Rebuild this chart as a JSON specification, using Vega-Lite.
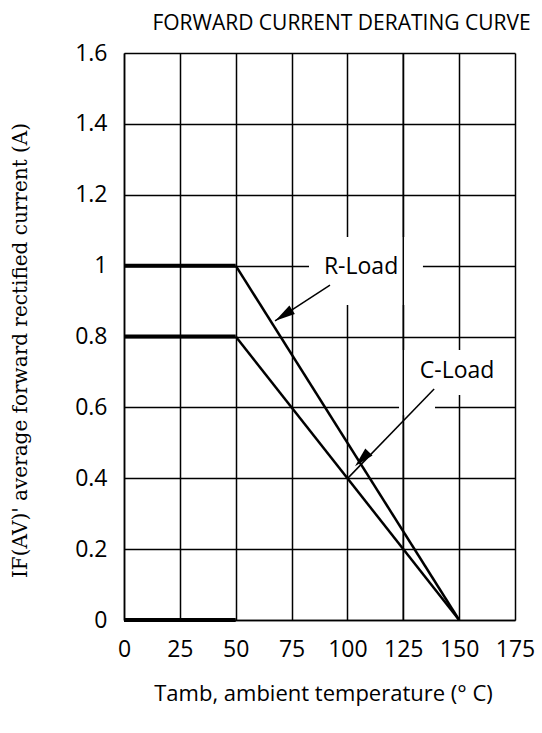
{
  "$schema": "https://vega.github.io/schema/vega-lite/v6.json",
  "width": 391,
  "height": 567,
  "autosize": {"type": "none"},
  "padding": {"left": 124, "top": 53, "right": 27, "bottom": 113},
  "background": "white",
  "title": {
    "text": "FORWARD CURRENT DERATING CURVE",
    "font": "Open Sans",
    "fontSize": 21,
    "fontWeight": "normal",
    "color": "black",
    "anchor": "middle",
    "dx": 22,
    "dy": 23,
    "baseline": "alphabetic",
    "offset": 14
  },
  "config": {
    "view": {"stroke": null},
    "axis": {
      "domainColor": "black",
      "domainWidth": 1.5,
      "gridColor": "black",
      "gridWidth": 1.5,
      "gridOpacity": 1,
      "ticks": false,
      "labelColor": "black",
      "labelFont": "Open Sans",
      "labelFontSize": 23,
      "labelOverlap": false,
      "labelFlush": false,
      "titleColor": "black",
      "titleFontWeight": "normal"
    }
  },
  "datasets": {
    "lines": [
      {"x": 0, "y": 1, "s": "R-flat"}, {"x": 50, "y": 1, "s": "R-flat"},
      {"x": 0, "y": 0.8, "s": "C-flat"}, {"x": 50, "y": 0.8, "s": "C-flat"},
      {"x": 0, "y": 0, "s": "zero"}, {"x": 50, "y": 0, "s": "zero"}
    ],
    "diag": [
      {"x": 50, "y": 1, "s": "R-Load"}, {"x": 150, "y": 0, "s": "R-Load"},
      {"x": 50, "y": 0.8, "s": "C-Load"}, {"x": 150, "y": 0, "s": "C-Load"}
    ],
    "gaps": [
      {"x": 82.8, "x2": 133.8, "y": 0.889, "y2": 1.081},
      {"x": 123.1, "x2": 139.2, "y": 0.578, "y2": 0.762},
      {"x": 139.2, "x2": 168.3, "y": 0.635, "y2": 0.762}
    ],
    "arrows": [
      {"x": 92.2, "y": 0.945, "a": "R"}, {"x": 67.6, "y": 0.844, "a": "R"},
      {"x": 138.8, "y": 0.652, "a": "C"}, {"x": 100.3, "y": 0.401, "a": "C"}
    ],
    "heads": [
      {"x": 71.5, "y": 0.86, "angle": 237},
      {"x": 106.5, "y": 0.454, "angle": 224}
    ],
    "labels": [
      {"x": 106.1, "y": 0.995, "label": "R-Load"},
      {"x": 149.1, "y": 0.703, "label": "C-Load"}
    ],
    "vrule": [{"x": 125}]
  },
  "layer": [
    {
      "data": {"name": "lines"},
      "mark": {"type": "line", "color": "black", "strokeWidth": 4, "strokeCap": "butt"},
      "encoding": {
        "x": {
          "field": "x", "type": "quantitative",
          "scale": {"domain": [0, 175], "nice": false, "zero": false},
          "axis": {
            "values": [0, 25, 50, 75, 100, 125, 150, 175],
            "grid": true,
            "labelPadding": 18,
            "title": "Tamb, ambient temperature (° C)",
            "titleFont": "Open Sans",
            "titleFontSize": 22,
            "titleX": 199,
            "titleY": 73,
            "titleBaseline": "middle"
          }
        },
        "y": {
          "field": "y", "type": "quantitative",
          "scale": {"domain": [0, 1.6], "nice": false, "zero": false},
          "axis": {
            "values": [0, 0.2, 0.4, 0.6, 0.8, 1, 1.2, 1.4, 1.6],
            "format": "~g",
            "grid": true,
            "labelPadding": 17,
            "title": "IF(AV)' average forward rectified current (A)",
            "titleFont": "DejaVu Serif",
            "titleFontSize": 20,
            "titleAngle": -90,
            "titleX": -104,
            "titleY": 297,
            "titleBaseline": "middle"
          }
        },
        "detail": {"field": "s"}
      }
    },
    {
      "data": {"name": "gaps"},
      "mark": {"type": "rect", "color": "white"},
      "encoding": {
        "x": {"field": "x", "type": "quantitative"},
        "x2": {"field": "x2"},
        "y": {"field": "y", "type": "quantitative"},
        "y2": {"field": "y2"}
      }
    },
    {
      "data": {"name": "vrule"},
      "mark": {"type": "rule", "color": "black", "strokeWidth": 1.5},
      "encoding": {"x": {"field": "x", "type": "quantitative"}}
    },
    {
      "data": {"name": "diag"},
      "mark": {"type": "line", "color": "black", "strokeWidth": 2.5},
      "encoding": {
        "x": {"field": "x", "type": "quantitative"},
        "y": {"field": "y", "type": "quantitative"},
        "detail": {"field": "s"}
      }
    },
    {
      "data": {"name": "arrows"},
      "mark": {"type": "line", "color": "black", "strokeWidth": 1.5},
      "encoding": {
        "x": {"field": "x", "type": "quantitative"},
        "y": {"field": "y", "type": "quantitative"},
        "detail": {"field": "a"}
      }
    },
    {
      "data": {"name": "heads"},
      "mark": {"type": "point", "shape": "M0,-1L0.5,1L-0.5,1Z", "filled": true, "color": "black", "opacity": 1, "size": 400},
      "encoding": {
        "x": {"field": "x", "type": "quantitative"},
        "y": {"field": "y", "type": "quantitative"},
        "angle": {"field": "angle", "type": "quantitative", "scale": null}
      }
    },
    {
      "data": {"name": "labels"},
      "mark": {"type": "text", "font": "Open Sans", "fontSize": 23, "color": "black", "align": "center", "baseline": "middle"},
      "encoding": {
        "x": {"field": "x", "type": "quantitative"},
        "y": {"field": "y", "type": "quantitative"},
        "text": {"field": "label"}
      }
    }
  ]
}
